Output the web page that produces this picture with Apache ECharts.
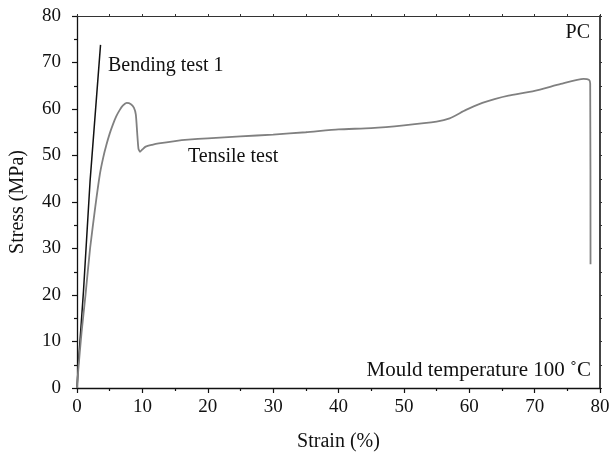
<!DOCTYPE html>
<html>
<head>
<meta charset="utf-8">
<script src="https://cdn.jsdelivr.net/npm/echarts@6/dist/echarts.min.js"></script>
<style>html,body{margin:0;padding:0;background:#fff}#c{width:610px;height:455px}</style>
</head>
<body>
<div id="c"></div>
<script>
const xTicks = [0, 10, 20, 30, 40, 50, 60, 70, 80];
const yTicks = [0, 10, 20, 30, 40, 50, 60, 70, 80];
const bendingStrain = [0, 0.2, 1.0, 2.0, 3.6];
const bendingStress = [0, 5, 21, 44.5, 73.8];
const tensileStrain = [0, 0.2, 0.7, 1.3, 2.0, 2.8, 3.5, 4.0, 4.5, 5.0, 5.5, 6.0, 6.5, 7.0, 7.6, 8.2, 8.7, 9.0, 9.2, 9.4, 9.65, 10.0, 10.5, 11.5, 12.5, 15, 17, 20, 25, 30, 35, 40, 45, 50, 55, 57, 59.5, 62, 64, 66, 70, 74, 77.5, 78.3, 78.5, 78.55];
const tensileStress = [0, 4, 12, 20, 30, 39, 46, 49.5, 52.3, 54.7, 56.7, 58.4, 59.7, 60.7, 61.3, 61.1, 60.3, 58.8, 55, 51.5, 50.8, 51.3, 51.9, 52.3, 52.6, 53.1, 53.4, 53.7, 54.1, 54.5, 55.0, 55.6, 55.9, 56.5, 57.3, 58.0, 59.8, 61.3, 62.2, 62.9, 63.9, 65.4, 66.5, 66.3, 65.5, 26.6];
const labels = { bending: 'Bending test 1', tensile: 'Tensile test', material: 'PC', mould: 'Mould temperature 100 ˚C', xName: 'Strain (%)', yName: 'Stress (MPa)' };

const FONT = '"Liberation Serif", "DejaVu Serif", serif';
const zip = (a, b) => a.map((v, i) => [v, b[i]]);

const chart = echarts.init(document.getElementById('c'), null, { renderer: 'canvas' });
chart.setOption({
  animation: false,
  backgroundColor: '#fff',
  grid: { left: 77, right: 10, top: 16, bottom: 67, containLabel: false, outerBoundsMode: 'none' },
  xAxis: [
    {
      type: 'value', min: xTicks[0], max: xTicks[xTicks.length - 1], interval: 10,
      name: labels.xName, nameLocation: 'middle', nameGap: 44,
      nameTextStyle: { fontFamily: FONT, fontSize: 20, color: '#111' },
      axisLine: { show: true, onZero: false, lineStyle: { color: '#111', width: 1.3 } },
      axisTick: { show: true, length: 5, lineStyle: { color: '#111', width: 1.2 } },
      minorTick: { show: true, splitNumber: 2, length: 3, lineStyle: { color: '#111', width: 1.2 } },
      axisLabel: { fontFamily: FONT, fontSize: 19, color: '#111', margin: 10 },
      splitLine: { show: false }
    },
    {
      type: 'value', position: 'top', min: 0, max: 80, interval: 5,
      axisLine: { show: true, onZero: false, lineStyle: { color: '#333', width: 1 } },
      axisTick: { show: true, length: 2, lineStyle: { color: '#333', width: 1 } },
      axisLabel: { show: false }, splitLine: { show: false }
    }
  ],
  yAxis: [
    {
      type: 'value', min: yTicks[0], max: yTicks[yTicks.length - 1], interval: 10,
      name: labels.yName, nameLocation: 'middle', nameGap: 49, nameRotate: 90,
      nameTextStyle: { fontFamily: FONT, fontSize: 20, color: '#111' },
      axisLine: { show: true, onZero: false, lineStyle: { color: '#111', width: 1.3 } },
      axisTick: { show: true, length: 5, lineStyle: { color: '#111', width: 1.2 } },
      minorTick: { show: true, splitNumber: 2, length: 3, lineStyle: { color: '#111', width: 1.2 } },
      axisLabel: { fontFamily: FONT, fontSize: 19, color: '#111', margin: 16 },
      splitLine: { show: false }
    },
    {
      type: 'value', position: 'right', min: 0, max: 80, interval: 5,
      axisLine: { show: true, onZero: false, lineStyle: { color: '#444', width: 2 } },
      axisTick: { show: true, length: 2, lineStyle: { color: '#333', width: 1 } },
      axisLabel: { show: false }, splitLine: { show: false }
    }
  ],
  series: [
    {
      name: labels.bending, type: 'line', data: zip(bendingStrain, bendingStress),
      showSymbol: false, smooth: false,
      lineStyle: { color: '#111', width: 1.5 }
    },
    {
      name: labels.tensile, type: 'line', data: zip(tensileStrain, tensileStress),
      showSymbol: false, smooth: 0.2,
      lineStyle: { color: '#808080', width: 1.8 }
    }
  ],
  graphic: [
    { type: 'text', left: 108, top: 56, style: { text: labels.bending, font: '20px ' + FONT, fill: '#111' } },
    { type: 'text', left: 188, top: 147, style: { text: labels.tensile, font: '20px ' + FONT, fill: '#111' } },
    { type: 'text', right: 20, top: 23, style: { text: labels.material, font: '20px ' + FONT, fill: '#111' } },
    { type: 'text', right: 19, top: 360, style: { text: labels.mould, font: '21px ' + FONT, fill: '#111' } }
  ]
});
</script>
</body>
</html>
